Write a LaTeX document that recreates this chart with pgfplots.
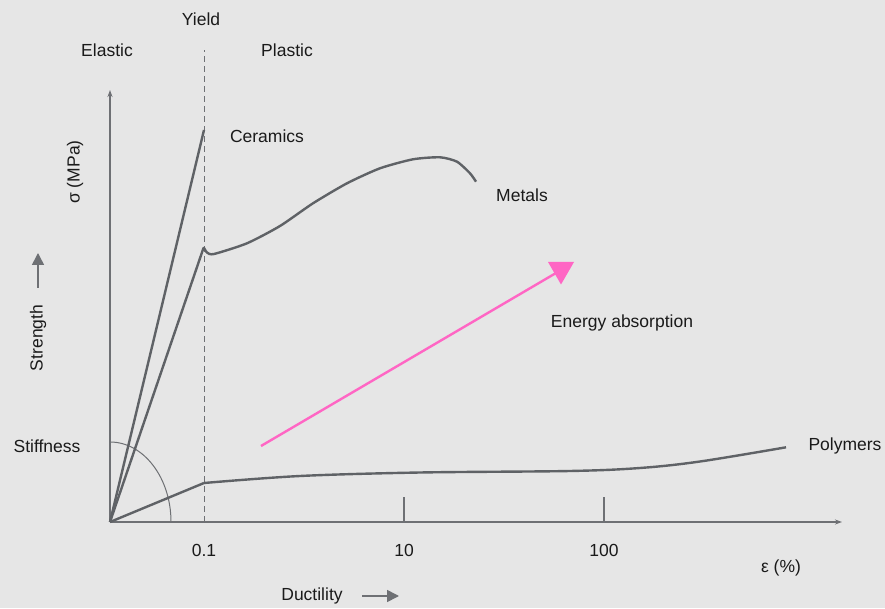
\documentclass[border=0pt]{standalone}
\usepackage{pgfplots}
\pgfplotsset{compat=1.18}
\usepackage{fontspec}
\setmainfont{Liberation Sans}
\usetikzlibrary{arrows.meta}
\definecolor{bg}{HTML}{E6E6E6}
\definecolor{curve}{HTML}{5F6266}
\definecolor{axisg}{HTML}{6E7074}
\definecolor{txt}{HTML}{1A1A1A}
\definecolor{pinkc}{HTML}{FF66C4}
\tikzset{lbl/.style={font=\fontsize{17.5}{20}\selectfont, text=txt, inner sep=0pt}}
\begin{document}
\begin{tikzpicture}
\begin{axis}[
  width=885pt, height=608pt, scale only axis,
  xmin=0, xmax=885, ymin=0, ymax=608,
  axis lines=none, clip=false,
  axis background/.style={fill=bg},
]
\fill[bg] (rel axis cs:0,0) rectangle (rel axis cs:1,1);
% axes
\draw[axisg, line width=1.1pt, -{Stealth[length=7pt,width=5pt]}] (axis cs:110,86) -- (axis cs:842,86);
\draw[axisg, line width=1.1pt, -{Stealth[length=7pt,width=5pt]}] (axis cs:110,86) -- (axis cs:110,518);
\draw[axisg, line width=1pt, dash pattern=on 6pt off 4pt] (axis cs:204,86) -- (axis cs:204,558);
\addplot[axisg, line width=1.1pt, forget plot] coordinates {(404,86) (404,111)};
\addplot[axisg, line width=1.1pt, forget plot] coordinates {(604,86) (604,111)};
% stiffness arc
\draw[axisg, line width=1pt] (axis cs:171,86) arc[start angle=0, end angle=90, x radius=61, y radius=80];
% ceramics
\addplot[curve, line width=2.4pt] coordinates {(110,86) (204,478)};
% metals
\addplot[curve, line width=2.4pt] coordinates {(110,86) (203.5,360)};
\addplot[curve, line width=2.4pt, smooth, tension=0.4] coordinates {
 (203.5,361) (207,355.5) (214,354) (247,364.7) (280,382) (313,404.7) (347,424.7)
 (380,439.7) (413,448.7) (440,450.7) (457,446.3) (470,434.7) (476,426.3)};
% polymers
\addplot[curve, line width=2.4pt] coordinates {(110,86) (204,125)};
\addplot[curve, line width=2.4pt, smooth, tension=0.55] coordinates {
 (204,125) (300,132) (420,135.5) (570,137) (640,140) (700,146.5) (786,160.7)};
% energy arrow
\addplot[pinkc, line width=2.4pt] coordinates {(261,162) (556,335)};
\addplot[pinkc, fill=pinkc, draw=none] coordinates {(548,346) (574,346) (561,323.5)} -- cycle;
% labels
\node[lbl] at (axis cs:201,589) {Yield};
\node[lbl] at (axis cs:107,558) {Elastic};
\node[lbl] at (axis cs:287,558) {Plastic};
\node[lbl] at (axis cs:267,472) {Ceramics};
\node[lbl] at (axis cs:522,413) {Metals};
\node[lbl] at (axis cs:622,285) {Energy absorption};
\node[lbl] at (axis cs:47,162) {Stiffness};
\node[lbl] at (axis cs:845,162) {Polymers};
\node[lbl] at (axis cs:204,58) {0.1};
\node[lbl] at (axis cs:404,58) {10};
\node[lbl] at (axis cs:604,58) {100};
\node[lbl] at (axis cs:781,40) {ε (\%)};
\node[lbl] at (axis cs:312,12) {Ductility};
\draw[axisg, line width=1.6pt, -{Triangle[length=12pt,width=12pt]}] (axis cs:362,12) -- (axis cs:399,12);
\node[lbl, rotate=90] at (axis cs:38,270) {Strength};
\draw[axisg, line width=1.6pt, -{Triangle[length=12pt,width=12pt]}] (axis cs:38,320) -- (axis cs:38,355);
\node[lbl, rotate=90] at (axis cs:75,436) {σ (MPa)};
\end{axis}
\end{tikzpicture}
\end{document}
